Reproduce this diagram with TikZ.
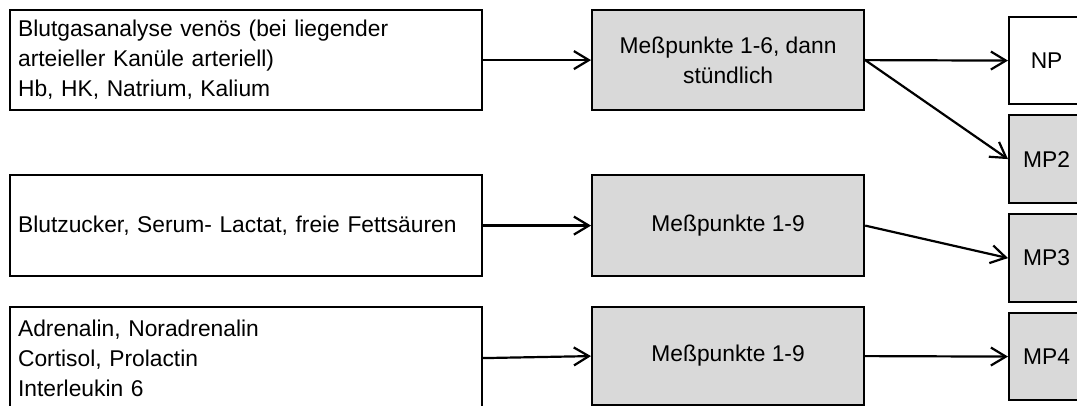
\documentclass[tikz,border=0pt]{standalone}
\usepackage{fontspec}
\setmainfont{Liberation Sans}
\usetikzlibrary{arrows.meta}
\definecolor{boxgray}{HTML}{D9D9D9}
\begin{document}
\begin{tikzpicture}[x=1pt,y=-1pt,
  txt/.style={font=\fontsize{22.8}{30}\selectfont},
  lbox/.style={txt, draw, line width=2.2pt, text width=456pt, inner xsep=8pt, inner ysep=0pt,
    align=left, minimum height=#1, anchor=north west},
  mbox/.style={txt, draw, line width=2.2pt, fill=boxgray, minimum width=272pt, inner sep=0pt,
    align=center, minimum height=#1, anchor=north west},
  rbox/.style={txt, draw, line width=2.2pt, minimum width=75pt, inner sep=0pt,
    minimum height=#1, anchor=north west},
  arr/.style={line width=2.2pt, -{Straight Barb[length=15pt,width=18pt,line width=2.2pt]}}
]
\clip (0,0) rectangle (1077,406);
\fill[white] (0,0) rectangle (1077,406);
% left boxes
\node[lbox=100] (l1) at (9,9) {Blutgasanalyse venös (bei liegender\\arteieller Kanüle arteriell)\\Hb, HK, Natrium, Kalium};
\node[lbox=101] (l2) at (9,174) {Blutzucker, Serum- Lactat, freie Fettsäuren};
\node[lbox=102] (l3) at (9,306) {Adrenalin, Noradrenalin\\Cortisol, Prolactin\\Interleukin 6};
% middle boxes
\node[mbox=100] (m1) at (591,9) {Meßpunkte 1-6, dann\\stündlich};
\node[mbox=101] (m2) at (591,174) {Meßpunkte 1-9};
\node[mbox=98] (m3) at (591,306) {Meßpunkte 1-9};
% right boxes
\node[rbox=87] (np) at (1008,16) {NP};
\node[rbox=88, fill=boxgray] (mp2) at (1008,114) {MP2};
\node[rbox=88, fill=boxgray] (mp3) at (1008,213) {MP3};
\node[rbox=87, fill=boxgray] (mp4) at (1008,312) {MP4};
% connectors
\draw[arr] (l1.east) -- (m1.west);
\draw[arr] (l2.east) -- (m2.west);
\draw[arr] (l3.east) -- (m3.west);
\draw[arr] (m1.east) -- (np.west);
\draw[arr] (m1.east) -- (mp2.west);
\draw[arr] (m2.east) -- (mp3.west);
\draw[arr] (m3.east) -- (mp4.west);
\end{tikzpicture}
\end{document}
